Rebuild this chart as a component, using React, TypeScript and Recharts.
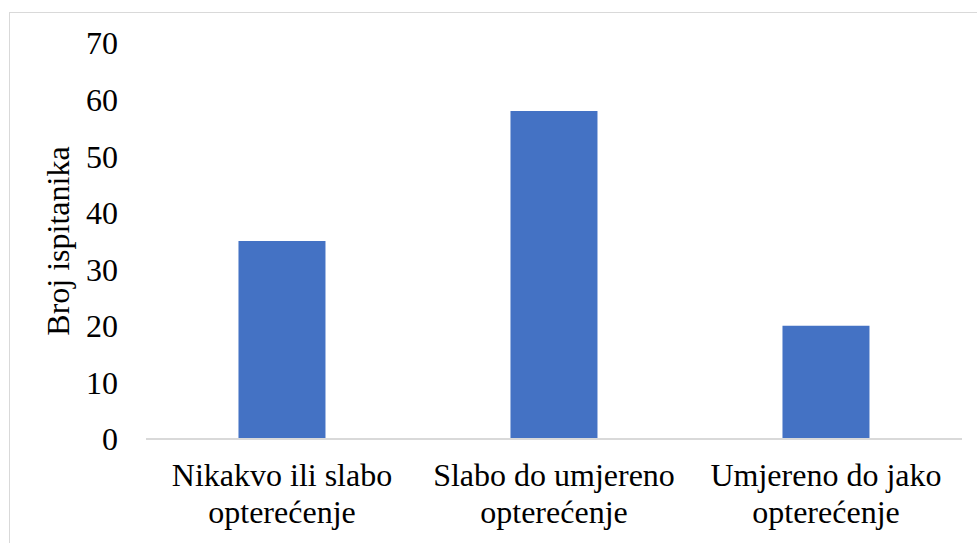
import { BarChart, Bar, XAxis, YAxis } from "recharts";

const categories = [
  "Nikakvo ili slabo|opterećenje",
  "Slabo do umjereno|opterećenje",
  "Umjereno do jako|opterećenje",
];
const counts = [35, 58, 20];
const yTicks = [0, 10, 20, 30, 40, 50, 60, 70];

const data = categories.map((c, i) => ({ name: c, value: counts[i] }));

const FONT = "Liberation Serif";

function CategoryTick(props: any) {
  const { x, y, payload } = props;
  const lines = String(payload.value).split("|");
  return (
    <text
      x={x}
      y={y}
      textAnchor="middle"
      style={{ fontFamily: FONT, fontSize: 32 }}
      fill="#000"
    >
      {lines.map((line, i) => (
        <tspan key={i} x={x} dy={i === 0 ? 39 : 37}>
          {line}
        </tspan>
      ))}
    </text>
  );
}

export default function App() {
  return (
    <div
      style={{
        position: "absolute",
        left: 0,
        top: 0,
        width: 977,
        height: 543,
        overflow: "hidden",
        background: "#fff",
        fontFamily: FONT,
      }}
    >
      <div
        style={{
          position: "absolute",
          left: 9,
          top: 12,
          width: 1000,
          height: 600,
          border: "1px solid #d9d9d9",
        }}
      />
      <div style={{ position: "absolute", left: 0, top: 0 }}>
        <BarChart
          width={977}
          height={543}
          data={data}
          margin={{ top: 43, right: 15, bottom: 44, left: 0 }}
          barCategoryGap="34%"
          style={{ fontFamily: FONT }}
        >
          <XAxis
            dataKey="name"
            height={60}
            axisLine={{ stroke: "#d9d9d9", strokeWidth: 2 }}
            tickLine={false}
            tick={<CategoryTick />}
            interval={0}
          />
          <YAxis
            width={146}
            domain={[0, 70]}
            ticks={yTicks}
            axisLine={false}
            tickLine={false}
            tickMargin={22}
            tick={{ fontFamily: FONT, fontSize: 32, fill: "#000" }}
            label={{
              value: "Broj ispitanika",
              angle: -90,
              position: "insideLeft",
              dx: 53,
              dy: 0,
              style: {
                fontFamily: FONT,
                fontSize: 32,
                fill: "#000",
                textAnchor: "middle",
              },
            }}
          />
          <Bar dataKey="value" fill="#4472C4" isAnimationActive={false} />
        </BarChart>
      </div>
    </div>
  );
}
